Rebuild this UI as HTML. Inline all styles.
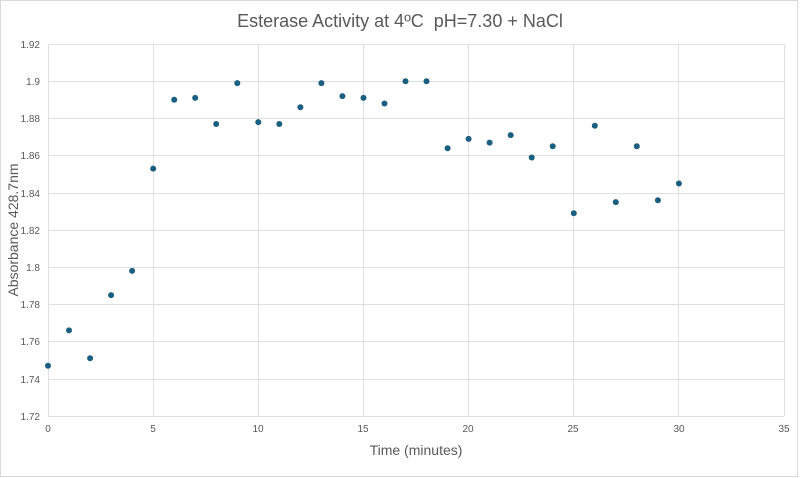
<!DOCTYPE html>
<html><head><style>body{margin:0;background:#fff}svg{display:block}</style></head><body>
<svg width="800" height="478" xmlns="http://www.w3.org/2000/svg" font-family="Liberation Sans, sans-serif">
<rect x="0.5" y="0.5" width="797" height="476" fill="#fff" stroke="#d9d9d9"/>
<text x="400" y="27" text-anchor="middle" font-size="18" fill="#595959">Esterase Activity at 4ºC&#160; pH=7.30 + NaCl</text>
<g stroke="#e0e0e0" stroke-width="1">
<line x1="48" y1="44.5" x2="784" y2="44.5"/><line x1="48" y1="81.5" x2="784" y2="81.5"/><line x1="48" y1="118.5" x2="784" y2="118.5"/><line x1="48" y1="155.5" x2="784" y2="155.5"/><line x1="48" y1="193.5" x2="784" y2="193.5"/><line x1="48" y1="230.5" x2="784" y2="230.5"/><line x1="48" y1="267.5" x2="784" y2="267.5"/><line x1="48" y1="304.5" x2="784" y2="304.5"/><line x1="48" y1="341.5" x2="784" y2="341.5"/><line x1="48" y1="379.5" x2="784" y2="379.5"/><line x1="48" y1="416.5" x2="784" y2="416.5"/>
<line x1="48.5" y1="44" x2="48.5" y2="416"/><line x1="153.5" y1="44" x2="153.5" y2="416"/><line x1="258.5" y1="44" x2="258.5" y2="416"/><line x1="363.5" y1="44" x2="363.5" y2="416"/><line x1="468.5" y1="44" x2="468.5" y2="416"/><line x1="573.5" y1="44" x2="573.5" y2="416"/><line x1="678.5" y1="44" x2="678.5" y2="416"/><line x1="784.5" y1="44" x2="784.5" y2="416"/>
</g>
<g font-size="10" fill="#595959" text-anchor="end">
<text x="40" y="48">1.92</text><text x="40" y="85">1.9</text><text x="40" y="122">1.88</text><text x="40" y="159">1.86</text><text x="40" y="197">1.84</text><text x="40" y="234">1.82</text><text x="40" y="271">1.8</text><text x="40" y="308">1.78</text><text x="40" y="345">1.76</text><text x="40" y="383">1.74</text><text x="40" y="420">1.72</text>
</g>
<g font-size="10" fill="#595959" text-anchor="middle">
<text x="48" y="432">0</text><text x="153" y="432">5</text><text x="258" y="432">10</text><text x="363" y="432">15</text><text x="468" y="432">20</text><text x="573" y="432">25</text><text x="679" y="432">30</text><text x="784" y="432">35</text>
</g>
<text x="416" y="455" text-anchor="middle" font-size="14" fill="#595959">Time (minutes)</text>
<text transform="translate(18,230) rotate(-90)" text-anchor="middle" font-size="14" fill="#595959">Absorbance 428.7nm</text>
<g fill="#1a5e80">
<circle cx="48" cy="365.8" r="3"/><circle cx="69" cy="330.4" r="3"/><circle cx="90.1" cy="358.3" r="3"/><circle cx="111.1" cy="295.1" r="3"/><circle cx="132.1" cy="270.9" r="3"/><circle cx="153.2" cy="168.6" r="3"/><circle cx="174.2" cy="99.8" r="3"/><circle cx="195.2" cy="97.9" r="3"/><circle cx="216.2" cy="124" r="3"/><circle cx="237.3" cy="83.1" r="3"/><circle cx="258.3" cy="122.1" r="3"/><circle cx="279.3" cy="124" r="3"/><circle cx="300.4" cy="107.2" r="3"/><circle cx="321.4" cy="83.1" r="3"/><circle cx="342.4" cy="96.1" r="3"/><circle cx="363.5" cy="97.9" r="3"/><circle cx="384.5" cy="103.5" r="3"/><circle cx="405.5" cy="81.2" r="3"/><circle cx="426.5" cy="81.2" r="3"/><circle cx="447.6" cy="148.2" r="3"/><circle cx="468.6" cy="138.9" r="3"/><circle cx="489.6" cy="142.6" r="3"/><circle cx="510.7" cy="135.1" r="3"/><circle cx="531.7" cy="157.5" r="3"/><circle cx="552.7" cy="146.3" r="3"/><circle cx="573.8" cy="213.3" r="3"/><circle cx="594.8" cy="125.8" r="3"/><circle cx="615.8" cy="202.1" r="3"/><circle cx="636.8" cy="146.3" r="3"/><circle cx="657.9" cy="200.2" r="3"/><circle cx="678.9" cy="183.5" r="3"/>
</g>
</svg>
</body></html>
